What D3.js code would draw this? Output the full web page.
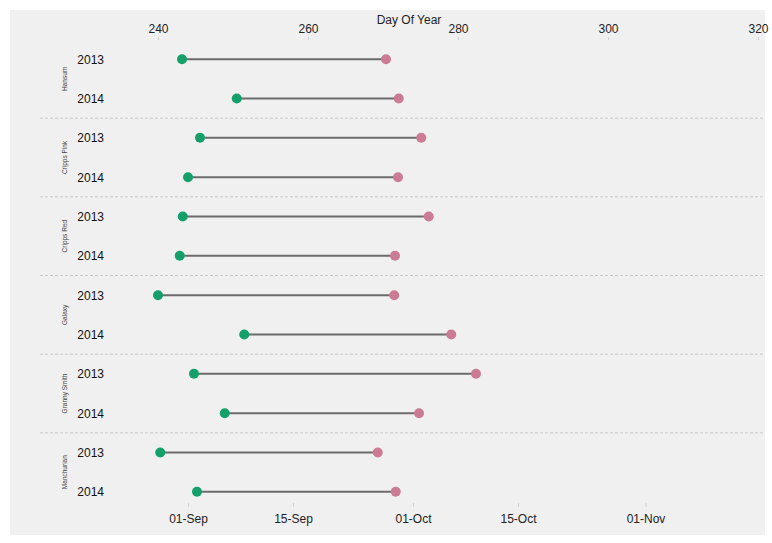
<!DOCTYPE html>
<html><head><meta charset="utf-8">
<script src="https://cdn.jsdelivr.net/npm/d3@7"></script>
<style>body{margin:0;background:#fff}svg{display:block}text{font-family:"Liberation Sans",Arial,sans-serif}</style>
</head><body><svg id="c" width="772" height="543"></svg>
<script>
const varieties = ["Hansum","Cripps Pink","Cripps Red","Galaxy","Granny Smith","Manchurian"];
const years = ["2013","2014"];
const startDay = [243.2,250.5, 245.6,244.0, 243.3,242.9, 240.0,251.5, 244.8,248.9, 240.3,245.2];
const endDay   = [270.4,272.1, 275.1,272.0, 276.1,271.6, 271.5,279.1, 282.4,274.8, 269.3,271.7];
const topTicks = [240,260,280,300,320];
const dateLabels = ["01-Sep","15-Sep","01-Oct","15-Oct","01-Nov"];
const dateDays = [244,258,274,288,305];

const svg = d3.select("#c");
svg.append("rect").attr("x",10).attr("y",10).attr("width",755).attr("height",525).attr("fill","#f0f0f0");

const x = d3.scaleLinear().domain([240,320]).range([158,758]);
const rows = [];
varieties.forEach((v,g)=>years.forEach((yr,i)=>rows.push({v,yr,key:v+"|"+yr,s:startDay[g*2+i],e:endDay[g*2+i]})));
const y = d3.scaleBand().domain(rows.map(r=>r.key)).range([39.5,511.5]);
const gy = d3.scaleBand().domain(varieties).range([39.5,511.5]);

// top axis
const topAxis = d3.axisTop(x).tickValues(topTicks).tickSize(3).tickPadding(4);
const ta = svg.append("g").attr("transform","translate(0,40)").call(topAxis);
ta.select(".domain").remove();
ta.selectAll("line").attr("stroke","#d2d2d2");
ta.selectAll("text").attr("font-size",12).attr("fill","#222");
svg.append("text").attr("x",409).attr("y",24).attr("text-anchor","middle").attr("font-size",12).attr("fill","#222").text("Day Of Year");

// bottom axis
const bottomAxis = d3.axisBottom(x).tickValues(dateDays).tickFormat((d,i)=>dateLabels[i]).tickSize(4).tickPadding(7);
const ba = svg.append("g").attr("transform","translate(0,503)").call(bottomAxis);
ba.select(".domain").remove();
ba.selectAll("line").attr("stroke","#d2d2d2");
ba.selectAll("text").attr("font-size",12).attr("fill","#222");

// separators
svg.append("g").selectAll("line").data(varieties.slice(1)).join("line")
  .attr("x1",40).attr("x2",765)
  .attr("y1",d=>gy(d)).attr("y2",d=>gy(d))
  .attr("stroke","#c8c8c8").attr("stroke-dasharray","3,2").attr("stroke-width",1);

// group labels
svg.append("g").selectAll("text").data(varieties).join("text")
  .attr("transform",d=>`translate(67,${gy(d)+gy.bandwidth()/2}) rotate(-90)`)
  .attr("text-anchor","middle").attr("font-size",6.5).attr("fill","#444").text(d=>d);

// year labels
svg.append("g").selectAll("text").data(rows).join("text")
  .attr("x",104).attr("y",d=>y(d.key)+y.bandwidth()/2+4.5)
  .attr("text-anchor","end").attr("font-size",12).attr("fill","#111").text(d=>d.yr);

// dumbbells
const r = svg.append("g").selectAll("g").data(rows).join("g");
r.append("line").attr("x1",d=>x(d.s)).attr("x2",d=>x(d.e))
  .attr("y1",d=>y(d.key)+y.bandwidth()/2).attr("y2",d=>y(d.key)+y.bandwidth()/2)
  .attr("stroke","#6b6b6b").attr("stroke-width",2);
r.append("circle").attr("cx",d=>x(d.s)).attr("cy",d=>y(d.key)+y.bandwidth()/2).attr("r",5).attr("fill","#15a06b");
r.append("circle").attr("cx",d=>x(d.e)).attr("cy",d=>y(d.key)+y.bandwidth()/2).attr("r",5).attr("fill","#cc7b95");
</script></body></html>
